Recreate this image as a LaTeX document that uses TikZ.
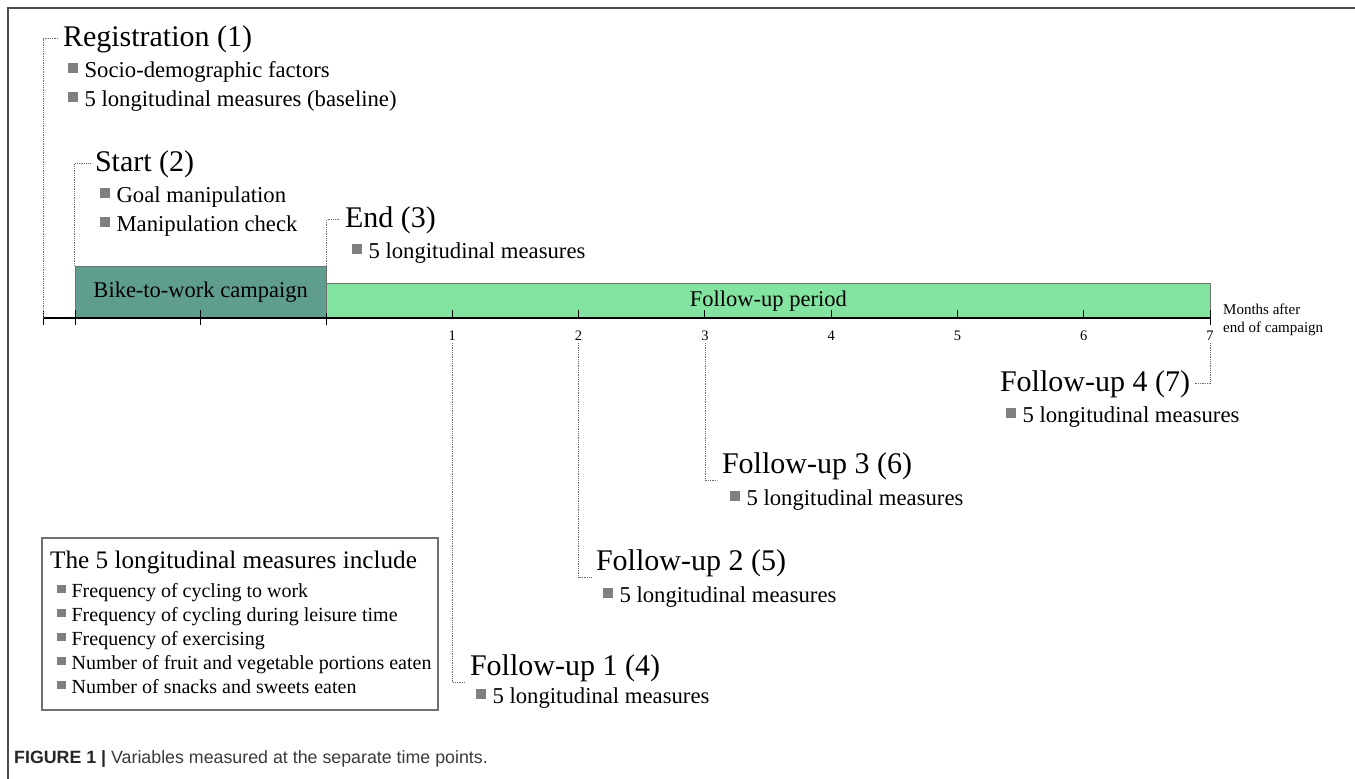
\documentclass[tikz,border=0pt]{standalone}
\usepackage{fontspec}
\setmainfont{Liberation Serif}
\newfontfamily\capfont{Liberation Sans}
\usetikzlibrary{positioning}
\definecolor{Frame}{HTML}{4D4D4D}
\definecolor{Campaign}{HTML}{5F9E8E}
\definecolor{FollowUp}{HTML}{83E3A0}
\definecolor{Edge}{HTML}{707070}
\definecolor{Bullet}{HTML}{808080}
\definecolor{Leader}{HTML}{6E6E6E}
\definecolor{CapText}{HTML}{3A3A3A}
\newcommand{\bul}{{\color{Bullet}\rule[0.18em]{0.42em}{0.42em}}\hspace{0.3em}}

\begin{document}
\begin{tikzpicture}[x=1pt,y=-1pt,
    head/.style={anchor=base west,inner sep=2pt,outer sep=3pt,font=\fontsize{30}{36}\selectfont},
    item/.style={anchor=base west,inner sep=0pt,font=\fontsize{22.7}{29}\selectfont},
    key/.style={anchor=base west,inner sep=0pt,font=\fontsize{20}{24}\selectfont},
    month/.style={inner sep=2pt,font=\fontsize{14.5}{16}\selectfont},
    bar/.style={draw=Edge,line width=0.8pt,anchor=south west,inner sep=0pt,
      font=\fontsize{22.5}{26}\selectfont},
    leader/.style={draw=Leader,densely dotted,line width=0.8pt},
    tick/.style={line width=1pt}
  ]
  \useasboundingbox (0,0) rectangle (1355,779);
  \draw[Frame,line width=2pt] (8,779) -- (8,8) -- (1355,8);

  \node[bar,fill=Campaign,minimum width=251.5pt,minimum height=51.5pt] (camp) at (74.5,318) {Bike-to-work campaign};
  \node[bar,fill=FollowUp,minimum width=884pt,minimum height=34pt] (fup) at (326,318) {Follow-up period};
  \coordinate (t0) at (43,318);
  \draw[line width=2.8pt] (t0) -- (fup.south east);
  \foreach \x in {43,75,200}
    \draw[tick] (\x,310) -- (\x,325);
  \draw[tick] (326,313) -- (326,325);
  \foreach \m in {1,...,7} {
    \draw[tick] (326+126.3*\m,310) -- (326+126.3*\m,318);
    \node[month] (m\m) at (326+126.3*\m,336) {\m};
  }
  \draw[tick] (1210,318) -- (1210,325);
  \node[anchor=west,align=left,inner sep=0pt,font=\fontsize{15}{18}\selectfont] (unit) at (1223,320) {Months after\\end of campaign};

  \node[head] (reg) at (58,46) {Registration (1)};
  \node[item] (reg1) at (68,77) {\bul Socio-demographic factors};
  \node[item] (reg2) at (68,106) {\bul 5 longitudinal measures (baseline)};
  \draw[leader] (t0) |- (reg.west);

  \node[head] (start) at (90,171) {Start (2)};
  \node[item] (start1) at (100,202) {\bul Goal manipulation};
  \node[item] (start2) at (100,231) {\bul Manipulation check};
  \draw[leader] (camp.north west) |- (start.west);

  \node[head] (end) at (340,227) {End (3)};
  \node[item] (end1) at (352,258) {\bul 5 longitudinal measures};
  \draw[leader] (camp.north east) |- (end.west);

  \node[head] (fu1) at (465,675) {Follow-up 1 (4)};
  \node[item] (fu1b) at (476,703) {\bul 5 longitudinal measures};
  \draw[leader] (m1.south) |- ([yshift=4pt]fu1.south west);

  \node[head] (fu2) at (591,570) {Follow-up 2 (5)};
  \node[item] (fu2b) at (603,602) {\bul 5 longitudinal measures};
  \draw[leader] (m2.south) |- ([yshift=4pt]fu2.south west);

  \node[head] (fu3) at (717,473) {Follow-up 3 (6)};
  \node[item] (fu3b) at (730,505) {\bul 5 longitudinal measures};
  \draw[leader] (m3.south) |- ([yshift=4pt]fu3.south west);

  \node[head,anchor=base east] (fu4) at (1195,391) {Follow-up 4 (7)};
  \node[item] (fu4b) at (1006,422) {\bul 5 longitudinal measures};
  \draw[leader] (m7.south) |- (fu4.east);

  \draw[draw=Edge,line width=1.2pt] (42,538) rectangle (438,710);
  \node[anchor=base west,inner sep=0pt,font=\fontsize{25.2}{30}\selectfont] (lgt) at (50,568) {The 5 longitudinal measures include};
  \foreach \t [count=\i] in {Frequency of cycling to work,Frequency of cycling during leisure time,
      Frequency of exercising,Number of fruit and vegetable portions eaten,Number of snacks and sweets eaten}
    \node[key] (lg\i) at (57,573+24*\i) {\bul \t};

  \node[anchor=base west,inner sep=0pt,font=\capfont\fontsize{17.8}{21}\selectfont,text=CapText] (cap) at (14,763)
    {{\bfseries\color{black!85}FIGURE 1 |} Variables measured at the separate time points.};
\end{tikzpicture}
\end{document}
